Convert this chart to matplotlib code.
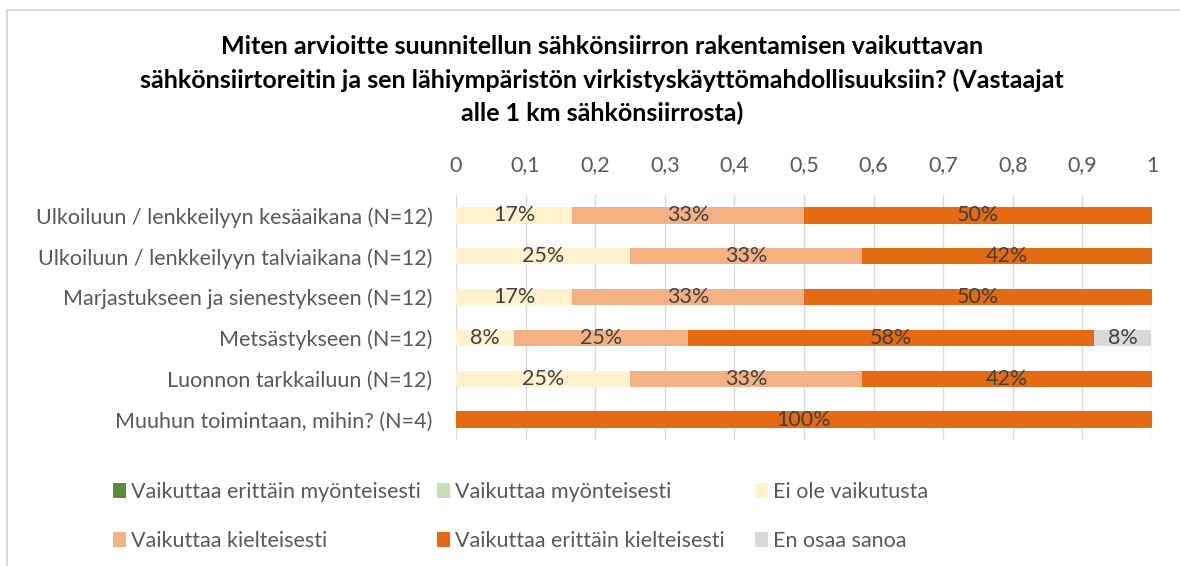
import numpy as np
import matplotlib
matplotlib.use("Agg")
import matplotlib.pyplot as plt
from matplotlib.patches import Patch, Rectangle

plt.rcParams['font.family'] = ['Lato', 'DejaVu Sans']

# Data (shares of respondents)
categories = ['Ulkoiluun / lenkkeilyyn kesäaikana (N=12)',
              'Ulkoiluun / lenkkeilyyn talviaikana (N=12)',
              'Marjastukseen ja sienestykseen (N=12)',
              'Metsästykseen (N=12)',
              'Luonnon tarkkailuun (N=12)',
              'Muuhun toimintaan, mihin? (N=4)']
series_names = ['Vaikuttaa erittäin myönteisesti', 'Vaikuttaa myönteisesti',
                'Ei ole vaikutusta', 'Vaikuttaa kielteisesti',
                'Vaikuttaa erittäin kielteisesti', 'En osaa sanoa']
very_pos = [0, 0, 0, 0, 0, 0]
pos = [0, 0, 0, 0, 0, 0]
no_effect = [0.167, 0.25, 0.167, 0.083, 0.25, 0]
neg = [0.333, 0.333, 0.333, 0.25, 0.333, 0]
very_neg = [0.5, 0.417, 0.5, 0.583, 0.417, 1.0]
dont_know = [0, 0, 0, 0.083, 0, 0]
xticks = np.arange(0, 1.01, 0.1)
xtick_labels = ['0', '0,1', '0,2', '0,3', '0,4', '0,5', '0,6', '0,7', '0,8', '0,9', '1']

colors = ['#5B8C3A', '#C5E0B4', '#FFF2CC', '#F4B183', '#E46A14', '#D9D9D9']
txt = '#595959'
fs = 15.5

fig = plt.figure(figsize=(11.8, 5.66), dpi=100)
# chart border (partly cropped in the original)
fig.patches.append(Rectangle((7 / 1180, -0.1), 1.2, 1 - 10 / 566 + 0.1, transform=fig.transFigure,
                             fill=False, edgecolor='#D9D9D9', linewidth=1.5))

ax = fig.add_axes([456 / 1180, 1 - 440 / 566, 696 / 1180, 245 / 566])

data = [very_pos, pos, no_effect, neg, very_neg, dont_know]
y = np.arange(len(categories))
left = np.zeros(len(categories))
for name, vals, c in zip(series_names, data, colors):
    vals = np.array(vals, dtype=float)
    ax.barh(y, vals, left=left, height=0.4, color=c, label=name, zorder=2)
    for yi, l, v in zip(y, left, vals):
        if v > 0:
            ax.text(l + v / 2, yi, f'{v * 100:.0f}%', ha='center', va='center',
                    fontsize=fs, color='#404040', zorder=3)
    left += vals

ax.set_xlim(0, 1)
ax.set_ylim(len(categories) - 0.5, -0.5)
ax.set_yticks(y)
ax.set_yticklabels(categories, fontsize=fs, color=txt)
ax.set_xticks(xticks)
ax.set_xticklabels(xtick_labels, fontsize=fs, color=txt)
ax.xaxis.tick_top()
ax.tick_params(axis='x', length=0, pad=14)
ax.tick_params(axis='y', length=0, pad=17)
ax.grid(axis='x', color='#D9D9D9', linewidth=1, zorder=0)
for s in ax.spines.values():
    s.set_visible(False)

fig.text(602 / 1180, 1 - 80 / 566,
         'Miten arvioitte suunnitellun sähkönsiirron rakentamisen vaikuttavan\n'
         'sähkönsiirtoreitin ja sen lähiympäristön virkistyskäyttömahdollisuuksiin? (Vastaajat\n'
         'alle 1 km sähkönsiirrosta)',
         ha='center', va='center', fontsize=18, fontweight='bold', color='black', linespacing=1.5)

# legend: three columns, two rows (row-major order like the original)
handles = [Patch(facecolor=c) for c in colors]
col_x = [113, 437, 755]
for k, cx in enumerate(col_x):
    idx = [k, k + 3]
    leg = fig.legend([handles[i] for i in idx], [series_names[i] for i in idx],
                     loc='upper left', bbox_to_anchor=(cx / 1180, 1 - 482 / 566),
                     frameon=False, fontsize=15.5, handlelength=0.6, handleheight=0.75,
                     handletextpad=0.25, labelspacing=1.35, borderpad=0, borderaxespad=0)
    for t in leg.get_texts():
        t.set_color(txt)

fig.savefig('out.png', dpi=100)
